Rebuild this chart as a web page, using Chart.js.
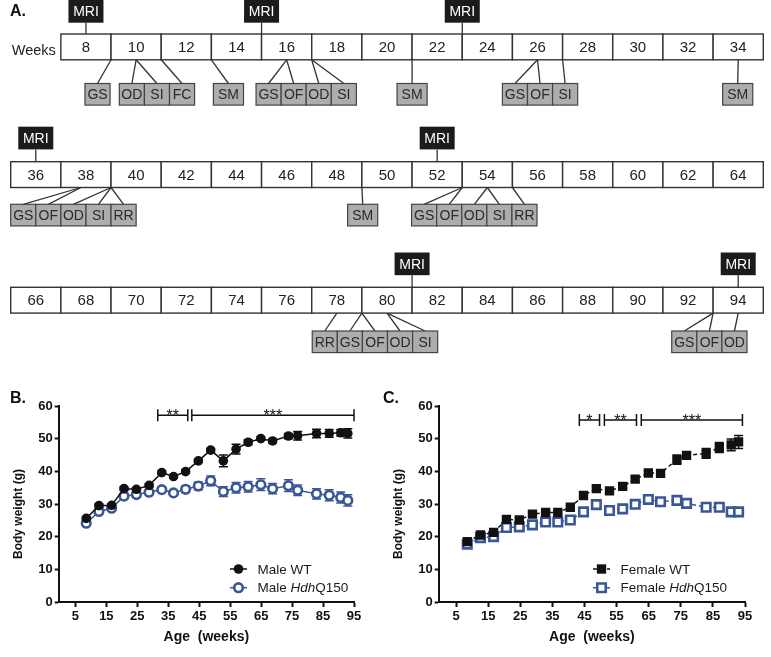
<!DOCTYPE html>
<html>
<head>
<meta charset="utf-8">
<script src="https://cdn.jsdelivr.net/npm/chart.js@4.4.0/dist/chart.umd.min.js"></script>
<style>
  body { margin: 0; background: #fff; width: 771px; height: 657px; position: relative; overflow: hidden; font-family: "Liberation Sans", Arial, sans-serif; }
  canvas { position: absolute; }
  #timeline { left: 0px; top: 0px; }
  #chartB { left: 0px; top: 390px; }
  #chartC { left: 380px; top: 390px; }
  .panel { position: absolute; font-weight: bold; font-size: 16px; color: #111; }
</style>
</head>
<body>
<canvas id="timeline" width="771" height="380"></canvas>
<canvas id="chartB" width="380" height="267"></canvas>
<canvas id="chartC" width="391" height="267"></canvas>
<div class="panel" style="left:10px;top:389px">B.</div>
<div class="panel" style="left:383px;top:389px">C.</div>
<script>
// ---- timeline data (panel A) ----
const rowWeeks = [
    [8, 10, 12, 14, 16, 18, 20, 22, 24, 26, 28, 30, 32, 34],
    [36, 38, 40, 42, 44, 46, 48, 50, 52, 54, 56, 58, 60, 62, 64],
    [66, 68, 70, 72, 74, 76, 78, 80, 82, 84, 86, 88, 90, 92, 94]
];
const mriWeeks = [[8, 15, 23], [36, 52], [81, 94]];
const testNames = [
    [["GS"], ["OD", "SI", "FC"], ["SM"], ["GS", "OF", "OD", "SI"], ["SM"], ["GS", "OF", "SI"], ["SM"]],
    [["GS", "OF", "OD", "SI", "RR"], ["SM"], ["GS", "OF", "OD", "SI", "RR"]],
    [["RR", "GS", "OF", "OD", "SI"], ["GS", "OF", "OD"]]
];
const testWeeks = [
    [[9], [10, 10, 11], [13], [16, 16, 17, 17], [21], [26, 26, 27], [34]],
    [[37.8, 37.8, 39, 39, 39], [49], [53, 53, 54, 54, 55]],
    [[78, 79, 79, 80, 80], [93, 93, 94]]
];

// ---- body weight data (panels B, C) ----
const ages = [8.5, 12.6, 16.7, 20.7, 24.7, 28.8, 32.9, 36.7, 40.6, 44.7, 48.7, 52.8, 56.9, 60.8, 64.9, 68.7, 73.8, 76.8, 82.9, 87, 90.7, 93];
const xTicks = [5, 15, 25, 35, 45, 55, 65, 75, 85, 95];

const maleWT = [25.6, 29.5, 29.6, 34.7, 34.5, 35.7, 39.6, 38.4, 39.9, 43.2, 46.5, 43.2, 46.8, 48.9, 50.0, 49.3, 50.8, 50.9, 51.6, 51.6, 51.8, 51.6];
const maleWTErr = [0.5, 0.5, 0.5, 0.5, 0.5, 0.5, 0.5, 0.5, 0.5, 0.5, 0.5, 1.8, 1.5, 0.8, 0.5, 0.6, 0.8, 1.3, 1.3, 1.2, 1.0, 1.4];
const maleQ150 = [24.1, 27.7, 28.7, 32.4, 32.9, 33.6, 34.4, 33.4, 34.5, 35.5, 37.1, 33.8, 35.0, 35.3, 35.9, 34.7, 35.6, 34.2, 33.1, 32.7, 32.0, 31.1];
const maleQ150Err = [0.4, 0.6, 0.6, 0.8, 0.8, 0.8, 0.8, 0.8, 1.0, 1.2, 1.5, 1.5, 1.6, 1.6, 1.8, 1.6, 1.8, 1.6, 1.6, 1.7, 1.7, 1.7];

const femaleWT = [18.5, 20.5, 21.3, 25.3, 25.1, 26.9, 27.4, 27.4, 29.0, 32.6, 34.7, 34.0, 35.4, 37.6, 39.5, 39.4, 43.6, 44.9, 45.5, 47.3, 48.1, 49.0];
const femaleWTErr = [0.5, 0.5, 0.5, 0.5, 0.5, 0.5, 0.5, 0.5, 0.5, 0.6, 0.6, 0.6, 0.6, 0.6, 0.6, 0.6, 1.4, 1.0, 1.5, 1.5, 1.8, 2.0];
const femaleQ150 = [17.7, 19.7, 20.0, 22.8, 23.0, 23.6, 24.5, 24.5, 25.1, 27.6, 29.8, 28.0, 28.5, 29.9, 31.4, 30.7, 31.1, 30.2, 29.0, 29.0, 27.6, 27.6];
const femaleQ150Err = [0.4, 0.5, 0.5, 0.5, 0.5, 0.5, 0.5, 0.5, 0.5, 0.5, 0.6, 0.5, 0.5, 0.5, 0.6, 0.5, 0.6, 0.5, 0.5, 0.5, 0.6, 0.6];

// significance brackets: [from week, to week, label]
const sigB = [[31.6, 41.3, "**"], [42.6, 95, "***"]];
const sigC = [[43.4, 49.7, "*"], [51.2, 61.2, "**"], [62.7, 94.2, "***"]];
const sigLevelB = 57.2;
const sigLevelC = 55.7;

// ---- layout / styles ----
const FONT = "'Liberation Sans', Arial, sans-serif";
const BLUE = "#3b5697";
const rowTop = [34, 161.7, 287.3];
const cellH = 25.8;
const boxTop = [83.5, 204.3, 331];
const boxH = 21.6;
const mriTop = [0, 126.7, 252.5];
const mriH = 22.7;
const groupStart = [[7.96, 9.33, 13.08, 14.78, 20.4, 24.6, 33.38], [35, 48.43, 50.98], [77.02, 91.35]];

const timelinePlugin = {
    id: "timeline",
    afterDraw(chart) {
        const ctx = chart.ctx;
        ctx.save();
        ctx.textAlign = "center";
        ctx.textBaseline = "middle";

        ctx.fillStyle = "#111";
        ctx.font = "bold 16px " + FONT;
        ctx.textAlign = "left";
        ctx.fillText("A.", 10, 12);

        rowWeeks.forEach((weeks, r) => {
            const s = chart.scales["x" + (r + 1)];
            const pw = s.getPixelForValue(1) - s.getPixelForValue(0);
            const top = rowTop[r];

            if (r === 0) {
                ctx.font = "14.5px " + FONT;
                ctx.fillStyle = "#222";
                ctx.textAlign = "right";
                ctx.fillText("Weeks", s.getPixelForValue(weeks[0] - 1) - 5, top + cellH / 2 + 4);
            }

            // lines to test boxes
            ctx.strokeStyle = "#333";
            ctx.lineWidth = 1.3;
            testNames[r].forEach((names, g) => {
                let x = s.getPixelForValue(groupStart[r][g]);
                names.forEach((n, i) => {
                    const bw = (n === "SM" ? 1.2 : 1) * pw;
                    ctx.beginPath();
                    ctx.moveTo(s.getPixelForValue(testWeeks[r][g][i]), top + cellH);
                    ctx.lineTo(x + bw / 2, boxTop[r]);
                    ctx.stroke();
                    x += bw;
                });
            });

            // MRI markers
            mriWeeks[r].forEach(w => {
                const cx = s.getPixelForValue(w);
                ctx.strokeStyle = "#333";
                ctx.beginPath();
                ctx.moveTo(cx, mriTop[r] + mriH);
                ctx.lineTo(cx, top);
                ctx.stroke();
                ctx.fillStyle = "#1b1b1b";
                ctx.fillRect(cx - 17.5, mriTop[r], 35, mriH);
                ctx.fillStyle = "#fff";
                ctx.font = "14px " + FONT;
                ctx.textAlign = "center";
                ctx.fillText("MRI", cx, mriTop[r] + mriH / 2 + 1);
            });

            // week cells
            ctx.font = "15px " + FONT;
            ctx.textAlign = "center";
            ctx.lineWidth = 1.4;
            weeks.forEach(w => {
                const a = s.getPixelForValue(w - 1);
                const b = s.getPixelForValue(w + 1);
                ctx.fillStyle = "#fff";
                ctx.fillRect(a, top, b - a, cellH);
                ctx.strokeStyle = "#333";
                ctx.strokeRect(a, top, b - a, cellH);
                ctx.fillStyle = "#222";
                ctx.fillText(String(w), (a + b) / 2, top + cellH / 2 + 1);
            });

            // test boxes
            ctx.font = "14px " + FONT;
            ctx.lineWidth = 1.2;
            testNames[r].forEach((names, g) => {
                let x = s.getPixelForValue(groupStart[r][g]);
                names.forEach(n => {
                    const bw = (n === "SM" ? 1.2 : 1) * pw;
                    ctx.fillStyle = "#adadad";
                    ctx.fillRect(x, boxTop[r], bw, boxH);
                    ctx.strokeStyle = "#444";
                    ctx.strokeRect(x, boxTop[r], bw, boxH);
                    ctx.fillStyle = "#2a2a2a";
                    ctx.fillText(n, x + bw / 2, boxTop[r] + boxH / 2 + 1);
                    x += bw;
                });
            });
        });
        ctx.restore();
    }
};

new Chart(document.getElementById("timeline"), {
    type: "scatter",
    data: { datasets: [] },
    options: {
        responsive: false,
        animation: false,
        layout: { padding: { left: 10.7, right: 7.7, top: 0, bottom: 0 } },
        plugins: { legend: { display: false }, tooltip: { enabled: false } },
        scales: {
            x1: { type: "linear", display: false, min: 5, max: 35 },
            x2: { type: "linear", display: false, min: 35, max: 65 },
            x3: { type: "linear", display: false, min: 65, max: 95 },
            y: { display: false, min: 0, max: 1 }
        }
    },
    plugins: [timelinePlugin]
});

// ---- weight charts ----
const errorBars = {
    id: "errorBars",
    beforeDatasetsDraw(chart) {
        const ctx = chart.ctx;
        const y = chart.scales.y;
        ctx.save();
        chart.data.datasets.forEach((ds, i) => {
            const meta = chart.getDatasetMeta(i);
            ctx.strokeStyle = ds.borderColor;
            ctx.lineWidth = 1.5;
            ds.errors.forEach((e, j) => {
                const p = meta.data[j];
                const v = ds.data[j].y;
                const t = y.getPixelForValue(v + e);
                const b = y.getPixelForValue(v - e);
                ctx.beginPath();
                ctx.moveTo(p.x, t); ctx.lineTo(p.x, b);
                ctx.moveTo(p.x - 4.5, t); ctx.lineTo(p.x + 4.5, t);
                ctx.moveTo(p.x - 4.5, b); ctx.lineTo(p.x + 4.5, b);
                ctx.stroke();
            });
        });
        ctx.restore();
    }
};

const sigBrackets = {
    id: "sigBrackets",
    afterDraw(chart, args, opts) {
        const ctx = chart.ctx;
        const x = chart.scales.x, y = chart.scales.y;
        const ly = y.getPixelForValue(opts.level);
        ctx.save();
        ctx.strokeStyle = "#111";
        ctx.fillStyle = "#111";
        ctx.lineWidth = 1.5;
        ctx.font = "16px " + FONT;
        ctx.textAlign = "center";
        ctx.textBaseline = "alphabetic";
        opts.brackets.forEach(([a, b, label]) => {
            const xa = x.getPixelForValue(a), xb = x.getPixelForValue(b);
            ctx.beginPath();
            ctx.moveTo(xa, ly); ctx.lineTo(xb, ly);
            ctx.moveTo(xa, ly - 6); ctx.lineTo(xa, ly + 6);
            ctx.moveTo(xb, ly - 6); ctx.lineTo(xb, ly + 6);
            ctx.stroke();
            ctx.fillText(label, (xa + xb) / 2, ly + 6);
        });
        ctx.restore();
    }
};

// y axis title, drawn a little below the axis middle as in the source figure
const yTitle = {
    id: "yTitle",
    afterDraw(chart, args, opts) {
        const ctx = chart.ctx;
        const ca = chart.chartArea;
        ctx.save();
        ctx.translate(19, (ca.top + ca.bottom) / 2 + 10);
        ctx.rotate(-Math.PI / 2);
        ctx.fillStyle = "#111";
        ctx.font = "bold 12px " + FONT;
        ctx.textAlign = "center";
        ctx.textBaseline = "middle";
        ctx.fillText(opts.text, 0, 0);
        ctx.restore();
    }
};

const customLegend = {
    id: "customLegend",
    afterDraw(chart, args, opts) {
        const ctx = chart.ctx;
        const ca = chart.chartArea;
        ctx.save();
        opts.items.forEach((segs, i) => {
            const ds = chart.data.datasets[i];
            const x0 = ca.left + opts.x;
            const yy = ca.top + opts.y + i * 18.7;
            ctx.strokeStyle = ds.borderColor;
            ctx.lineWidth = 1.5;
            ctx.setLineDash(ds.borderDash || []);
            ctx.beginPath();
            ctx.moveTo(x0, yy); ctx.lineTo(x0 + 17, yy);
            ctx.stroke();
            ctx.setLineDash([]);
            const cx = x0 + 8.5;
            ctx.lineWidth = ds.pointBorderWidth;
            ctx.fillStyle = ds.pointBackgroundColor;
            ctx.strokeStyle = ds.borderColor;
            const r = ds.pointRadius;
            ctx.beginPath();
            if (ds.pointStyle === "rect") {
                const h = r * Math.SQRT1_2;
                ctx.rect(cx - h, yy - h, 2 * h, 2 * h);
            } else {
                ctx.arc(cx, yy, r, 0, Math.PI * 2);
            }
            ctx.fill();
            if (ds.pointBorderWidth) ctx.stroke();

            let tx = x0 + opts.textGap;
            ctx.fillStyle = "#1a1a1a";
            ctx.textBaseline = "middle";
            ctx.textAlign = "left";
            segs.forEach((s, k) => {
                ctx.font = (k % 2 ? "italic " : "") + "13.5px " + FONT;
                ctx.fillText(s, tx, yy + 1);
                tx += ctx.measureText(s).width;
            });
        });
        ctx.restore();
    }
};

function points(vals) {
    return ages.map((a, i) => ({ x: a, y: vals[i] }));
}

function makeChart(id, sets, legendItems, legendX, brackets, level) {
    const tickFont = { family: FONT, weight: "bold", size: 13 };
    return new Chart(document.getElementById(id), {
        type: "scatter",
        data: { datasets: sets },
        options: {
            responsive: false,
            animation: false,
            layout: { padding: { top: 16, right: 26, left: 0, bottom: 0 } },
            plugins: {
                legend: { display: false },
                tooltip: { enabled: false },
                sigBrackets: { brackets: brackets, level: level },
                yTitle: { text: "Body weight (g)" },
                customLegend: { items: legendItems, x: legendX, y: 163, textGap: 27.5 }
            },
            scales: {
                x: {
                    type: "linear", min: -0.4, max: 95,
                    afterBuildTicks: s => { s.ticks = xTicks.map(v => ({ value: v })); },
                    afterFit: s => { s.height = 55; },
                    grid: { drawOnChartArea: false, drawTicks: true, tickLength: 5, tickWidth: 2, tickColor: "#111" },
                    border: { display: true, color: "#111", width: 2 },
                    ticks: { color: "#111", font: tickFont, padding: 2, maxRotation: 0, autoSkip: false },
                    title: { display: true, text: "Age  (weeks)", color: "#111", font: { family: FONT, weight: "bold", size: 14 }, padding: { top: 0, bottom: 11 } }
                },
                y: {
                    type: "linear", min: 0, max: 60,
                    afterFit: s => { s.width = 58.7; },
                    grid: { drawOnChartArea: false, drawTicks: true, tickLength: 4, tickWidth: 2, tickColor: "#111" },
                    border: { display: true, color: "#111", width: 2 },
                    ticks: { stepSize: 10, color: "#111", font: tickFont, padding: 2 },
                    title: { display: false }
                }
            }
        },
        plugins: [errorBars, sigBrackets, yTitle, customLegend]
    });
}

makeChart("chartB", [
    {
        label: "Male WT", data: points(maleWT), errors: maleWTErr, showLine: true,
        borderColor: "#111", borderWidth: 1.5, pointStyle: "circle", pointRadius: 4.8,
        pointBackgroundColor: "#111", pointBorderColor: "#111", pointBorderWidth: 0
    },
    {
        label: "Male HdhQ150", data: points(maleQ150), errors: maleQ150Err, showLine: true,
        borderColor: BLUE, borderWidth: 1.5, pointStyle: "circle", pointRadius: 4.3,
        pointBackgroundColor: "#fff", pointBorderColor: BLUE, pointBorderWidth: 2.6
    }
], [["Male WT"], ["Male ", "Hdh", "Q150"]], 171.3, sigB, sigLevelB);

makeChart("chartC", [
    {
        label: "Female WT", data: points(femaleWT), errors: femaleWTErr, showLine: true,
        borderColor: "#111", borderWidth: 1.5, borderDash: [4, 3], pointStyle: "rect", pointRadius: 6.6,
        pointBackgroundColor: "#111", pointBorderColor: "#111", pointBorderWidth: 0
    },
    {
        label: "Female HdhQ150", data: points(femaleQ150), errors: femaleQ150Err, showLine: true,
        borderColor: BLUE, borderWidth: 1.5, borderDash: [4, 3], pointStyle: "rect", pointRadius: 6,
        pointBackgroundColor: "#fff", pointBorderColor: BLUE, pointBorderWidth: 2.6
    }
], [["Female WT"], ["Female ", "Hdh", "Q150"]], 154.3, sigC, sigLevelC);
</script>
</body>
</html>
